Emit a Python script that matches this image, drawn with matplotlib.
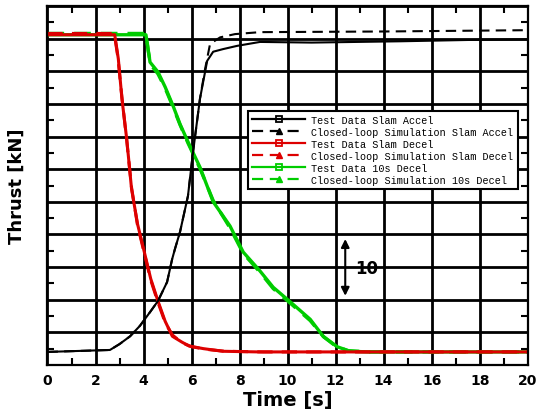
import numpy as np
import matplotlib
matplotlib.use("Agg")
import matplotlib.pyplot as plt
from matplotlib.lines import Line2D
from matplotlib.ticker import MultipleLocator

# test data, slam accel
acc_t = [0, 2.6, 3.0, 3.44, 3.85, 4.27, 4.6, 4.98, 5.19, 5.31, 5.52, 5.85, 6.06, 6.35, 6.65, 6.9, 7.31, 7.9, 8.85, 11.0, 14.7, 17.5, 20]
acc_v = [2.0, 2.3, 3.2, 4.4, 6.0, 8.1, 9.8, 12.7, 16.2, 17.8, 20.4, 25.9, 32.6, 40.8, 46.6, 48.0, 48.4, 48.9, 49.5, 49.4, 49.6, 49.8, 49.9]
# simulation, slam accel
acc_sim_t = [0, 2.6, 3.0, 3.44, 3.85, 4.27, 4.6, 4.98, 5.19, 5.31, 5.52, 5.85, 6.06, 6.35, 6.56, 6.77, 7.19, 7.81, 8.85, 14.0, 20]
acc_sim_v = [2.0, 2.3, 3.2, 4.4, 6.0, 8.1, 9.8, 12.7, 16.2, 17.8, 20.4, 25.9, 32.6, 40.8, 45.3, 49.2, 50.2, 50.7, 51.0, 51.1, 51.3]

# test data, slam decel
dec_t = [0, 2.8, 2.95, 3.1, 3.3, 3.5, 3.75, 4.0, 4.3, 4.6, 4.9, 5.2, 5.6, 5.9, 6.5, 7.3, 8.8, 20]
dec_v = [50.6, 50.6, 46.9, 40.8, 34.6, 27.0, 21.6, 17.8, 13.2, 9.8, 6.7, 4.4, 3.5, 2.9, 2.5, 2.1, 2.0, 2.0]
# simulation, slam decel
dec_sim_t = [0, 2.78, 2.93, 3.1, 3.3, 3.5, 3.75, 4.0, 4.3, 4.6, 4.9, 5.2, 5.6, 6.0, 6.6, 7.4, 9.0, 20]
dec_sim_v = [50.8, 50.8, 47.2, 41.0, 34.4, 27.2, 21.4, 17.6, 13.0, 9.6, 6.5, 4.6, 3.4, 2.8, 2.4, 2.1, 2.0, 2.0]

# test data, 10s decel
d10_t = [0, 4.1, 4.19, 4.27, 4.6, 4.9, 5.23, 5.52, 5.85, 6.35, 6.9, 7.6, 8.15, 8.85, 9.4, 10.1, 10.94, 11.48, 12.06, 12.6, 13.4, 20]
d10_v = [50.6, 50.6, 48.4, 46.4, 44.9, 42.6, 39.7, 36.9, 34.2, 30.3, 25.0, 21.3, 17.3, 14.4, 11.9, 9.7, 7.0, 4.4, 2.8, 2.1, 2.0, 2.0]
# simulation, 10s decel
d10_sim_t = [0, 4.1, 4.2, 4.3, 4.6, 4.9, 5.23, 5.52, 5.85, 6.35, 6.9, 7.6, 8.15, 8.85, 9.4, 10.1, 10.94, 11.5, 12.0, 12.5, 13.4, 20]
d10_sim_v = [50.8, 50.8, 48.0, 46.0, 44.6, 42.4, 39.5, 36.8, 34.0, 30.1, 25.2, 21.0, 17.1, 14.2, 11.7, 9.5, 6.8, 4.3, 2.9, 2.2, 2.0, 2.0]

labels = ["Test Data Slam Accel", "Closed-loop Simulation Slam Accel",
          "Test Data Slam Decel", "Closed-loop Simulation Slam Decel",
          "Test Data 10s Decel", "Closed-loop Simulation 10s Decel"]

black = "#000000"
red = "#dd0000"
green = "#00cc00"

fig = plt.figure(figsize=(5.36, 4.14), dpi=100)
ax = fig.add_axes([0.0886, 0.116, 0.896, 0.867])

ax.plot(d10_sim_t, d10_sim_v, color=green, lw=2.4, ls=(0, (5, 3)))
ax.plot(d10_t, d10_v, color=green, lw=2.4)
ax.plot(dec_sim_t, dec_sim_v, color=red, lw=2.2, ls=(0, (5, 3)))
ax.plot(dec_t, dec_v, color=red, lw=2.2)
ax.plot(acc_sim_t, acc_sim_v, color=black, lw=1.5, ls=(0, (5, 3)))
ax.plot(acc_t, acc_v, color=black, lw=1.5)

ax.set_xlim(0, 20)
ax.set_ylim(0, 55)
ax.xaxis.set_major_locator(MultipleLocator(2))
ax.xaxis.set_minor_locator(MultipleLocator(1))
ax.yaxis.set_major_locator(MultipleLocator(5))
ax.yaxis.set_minor_locator(MultipleLocator(2.5))
ax.grid(True, which="major", color="black", lw=2.0)
ax.tick_params(which="both", direction="in", top=True, right=True, width=1.5)
ax.tick_params(which="major", length=0)
ax.tick_params(which="minor", length=5)
ax.tick_params(axis="y", labelleft=False)
ax.tick_params(axis="x", pad=6)
for lab in ax.get_xticklabels():
    lab.set_fontweight("bold")
    lab.set_fontsize(10)
for s in ax.spines.values():
    s.set_linewidth(1.6)

ax.set_xlabel("Time [s]", fontsize=14, fontweight="bold", labelpad=2)
ax.set_ylabel("Thrust [kN]", fontsize=13, fontweight="bold", labelpad=12)

# scale arrow
ax.annotate("", xy=(12.4, 19.3), xytext=(12.4, 10.6),
            arrowprops=dict(arrowstyle="<|-|>", color="black", lw=1.5,
                            mutation_scale=12, shrinkA=0, shrinkB=0))
ax.text(12.8, 14.9, "10", fontsize=12, fontweight="bold", va="center", ha="left")

handles = [
    Line2D([], [], color=black, lw=1.6, marker="s", ms=5, mfc="none", mew=1.3),
    Line2D([], [], color=black, lw=1.6, ls=(0, (5, 3)), marker="^", ms=5),
    Line2D([], [], color=red, lw=1.6, marker="s", ms=5, mfc="none", mew=1.3),
    Line2D([], [], color=red, lw=1.6, ls=(0, (5, 3)), marker="^", ms=5),
    Line2D([], [], color=green, lw=1.6, marker="s", ms=5, mfc="none", mew=1.3),
    Line2D([], [], color=green, lw=1.6, ls=(0, (5, 3)), marker="^", ms=5),
]
leg = ax.legend(handles, labels, loc="upper right", bbox_to_anchor=(0.979, 0.708),
                prop={"family": "Liberation Mono", "size": 7.3},
                handlelength=5.3, labelspacing=0.2, borderpad=0.4,
                handletextpad=0.6, fancybox=False, framealpha=1,
                edgecolor="black", borderaxespad=0)
leg.get_frame().set_linewidth(1.5)

fig.savefig("out.png", dpi=100)
